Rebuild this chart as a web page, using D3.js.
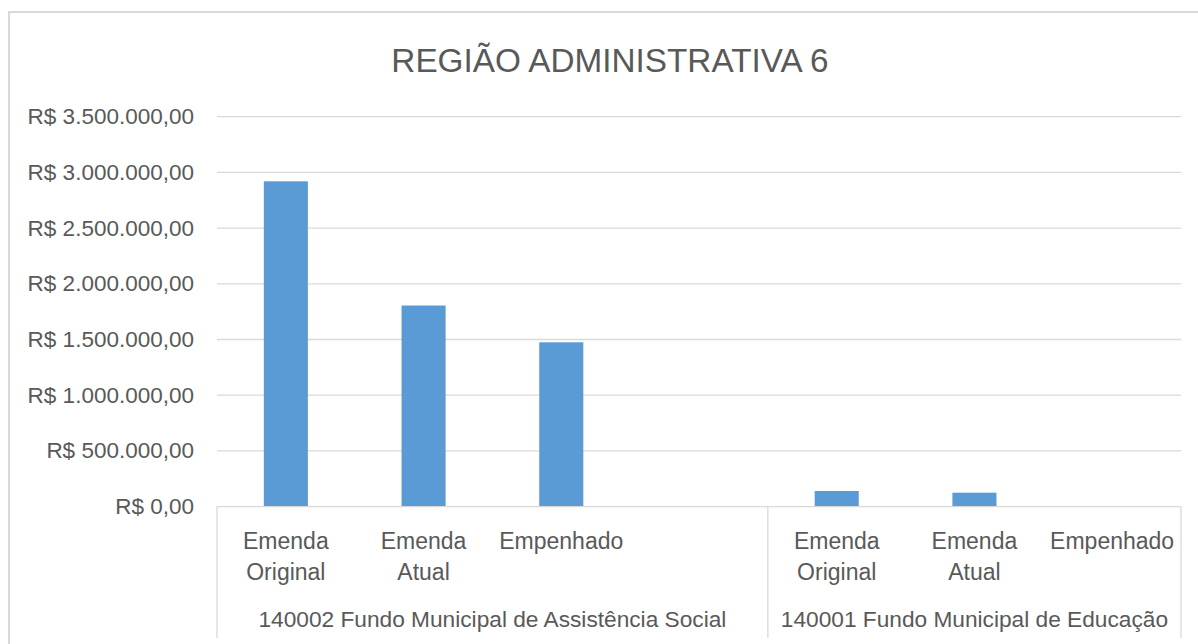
<!DOCTYPE html>
<meta charset="utf-8" />
<script src="https://d3js.org/d3.v7.min.js"></script>
<style>
  body { margin: 0; background: #fff; }
  text { font-family: "Liberation Sans", Arial, sans-serif; fill: #595959; }
</style>
<div id="chart"></div>
<script>
  // data
  const title = "REGIÃO ADMINISTRATIVA 6";
  const groups = [
    "140002 Fundo Municipal de Assistência Social",
    "140001 Fundo Municipal de Educação",
  ];
  // one slot per category, the first group has a blank 4th slot
  const slotGroup = [0, 0, 0, 0, 1, 1, 1];
  const slotLabels = [
    ["Emenda", "Original"], ["Emenda", "Atual"], ["Empenhado"], [],
    ["Emenda", "Original"], ["Emenda", "Atual"], ["Empenhado"],
  ];
  const values = [2920000, 1805000, 1475000, null, 140000, 125000, 0];
  const yTicks = [0, 500000, 1000000, 1500000, 2000000, 2500000, 3000000, 3500000];

  const W = 1198, H = 644;
  const plot = { left: 217, right: 1181, top: 116.7, bottom: 506.6 };

  const svg = d3.select("#chart").append("svg")
    .attr("width", W).attr("height", H);

  // chart border (cut off at right and bottom)
  svg.append("rect")
    .attr("x", 9).attr("y", 12)
    .attr("width", W + 20).attr("height", H + 20)
    .attr("fill", "#fff").attr("stroke", "#d9d9d9").attr("stroke-width", 2);

  svg.append("text")
    .attr("x", 610).attr("y", 72)
    .attr("text-anchor", "middle")
    .style("font-size", "33.3px")
    .text(title);

  const slots = d3.range(values.length);
  const x = d3.scaleBand().domain(slots)
    .range([plot.left, plot.right])
    .paddingInner(0.68).paddingOuter(0.34);
  const step = x.step();
  const y = d3.scaleLinear().domain([0, 3500000]).range([plot.bottom, plot.top]);

  const br = d3.formatLocale({
    decimal: ",", thousands: ".", grouping: [3], currency: ["R$ ", ""],
  });
  const fmt = br.format("$,.2f");

  // gridlines
  svg.append("g").selectAll("line")
    .data(yTicks.filter(d => d > 0))
    .join("line")
    .attr("x1", plot.left).attr("x2", plot.right)
    .attr("y1", d => y(d)).attr("y2", d => y(d))
    .attr("stroke", "#d9d9d9").attr("stroke-width", 1.3);

  // y labels
  svg.append("g").selectAll("text")
    .data(yTicks)
    .join("text")
    .attr("x", 194).attr("y", d => y(d))
    .attr("text-anchor", "end")
    .attr("dominant-baseline", "central")
    .style("font-size", "22.5px")
    .text(d => fmt(d));

  // bars
  svg.append("g").selectAll("rect")
    .data(slots.filter(i => values[i] != null))
    .join("rect")
    .attr("x", i => x(i))
    .attr("width", x.bandwidth())
    .attr("y", i => y(values[i]))
    .attr("height", i => y(0) - y(values[i]))
    .attr("fill", "#5b9bd5");

  // category axis
  const axisG = svg.append("g").attr("stroke", "#d9d9d9").attr("stroke-width", 1.3);
  axisG.append("line")
    .attr("x1", plot.left).attr("x2", plot.right)
    .attr("y1", plot.bottom).attr("y2", plot.bottom);

  const groupStart = groups.map((g, gi) => slotGroup.indexOf(gi));
  const edges = groupStart.map(s => x(s) - x.paddingInner() * step / 2)
    .concat([plot.right]);
  axisG.selectAll(".sep")
    .data(edges)
    .join("line")
    .attr("x1", d => d).attr("x2", d => d)
    .attr("y1", plot.bottom).attr("y2", 638);

  // category labels
  const catG = svg.append("g").selectAll("text")
    .data(slots)
    .join("text")
    .attr("text-anchor", "middle")
    .style("font-size", "23px");
  catG.selectAll("tspan")
    .data(i => slotLabels[i].map((t, k) => ({ t, k, i })))
    .join("tspan")
    .attr("x", d => x(d.i) + x.bandwidth() / 2)
    .attr("y", d => 549 + d.k * 31)
    .text(d => d.t);

  // group labels
  svg.append("g").selectAll("text")
    .data(groups)
    .join("text")
    .attr("x", (g, gi) => (edges[gi] + edges[gi + 1]) / 2)
    .attr("y", 627)
    .attr("text-anchor", "middle")
    .style("font-size", "22.7px")
    .text(d => d);
</script>
